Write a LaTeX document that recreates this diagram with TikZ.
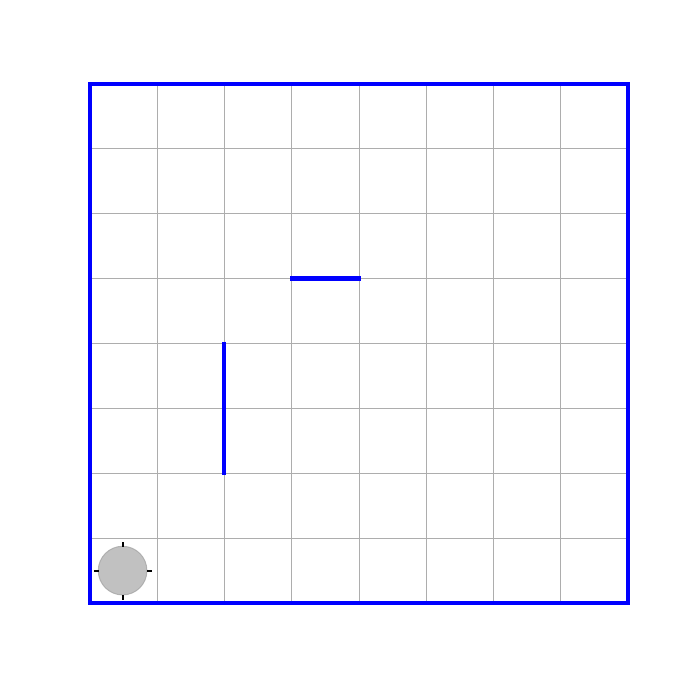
\documentclass[tikz,border=0pt]{standalone}
\begin{document}
\begin{tikzpicture}[x=1pt,y=-1pt,
  gridline/.style={draw=black!32,line width=0.8pt},
  border/.style={draw=blue,line width=3.2pt},
  wall/.style={draw=blue,line width=4.5pt},
  robot/.style={circle,minimum size=48.6pt,inner sep=0pt,fill=black!30,fill opacity=0.8,draw=black!35,draw opacity=0.8,line width=1pt},
  tick/.style={draw=black,line width=2pt}]
\useasboundingbox (0,0) rectangle (700,680);
\foreach \i in {1,...,7}{
  \draw[gridline] ({90+\i*67.25},84) -- ({90+\i*67.25},603);
  \draw[gridline] (90,{84+\i*64.875}) -- (628,{84+\i*64.875});
}
\node[robot] (r) at (122.6,570.6) {};
\draw[tick] (94,570.6) -- (98.5,570.6);
\draw[tick] (147,570.6) -- (151.5,570.6);
\draw[tick] (122.6,542) -- (122.6,546.5);
\draw[tick] (122.6,595) -- (122.6,599.5);
\draw[border] (90,84) rectangle (628,603);
\draw[wall] (290,278.6) -- (360.5,278.6);
\draw[wall] (224.2,341.5) -- (224.2,474.5);
\end{tikzpicture}
\end{document}
